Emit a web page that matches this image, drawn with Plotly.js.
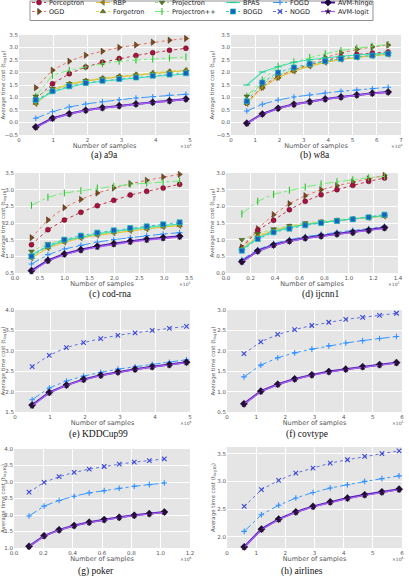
<!DOCTYPE html>
<html>
<head>
<meta charset="utf-8">
<script src="https://cdn.plot.ly/plotly-3.0.1.min.js"></script>
<style>
  html, body { margin: 0; padding: 0; background: #ffffff; }
  #chart { width: 409px; height: 576px; }
</style>
</head>
<body>
<div id="chart"></div>
<script>
// ---- sample counts (x) per dataset ----
const a9aX      = [0.49, 0.98, 1.47, 1.95, 2.44, 2.93, 3.42, 3.91, 4.40, 4.88];
const w8aX      = [0.65, 1.29, 1.94, 2.59, 3.24, 3.88, 4.53, 5.18, 5.82, 6.47];
const codrnaX   = [0.331, 0.662, 0.993, 1.325, 1.656, 1.987, 2.318, 2.649, 2.980, 3.311];
const ijcnn1X   = [0.129, 0.258, 0.387, 0.516, 0.645, 0.774, 0.903, 1.032, 1.161, 1.29];
const kddX      = [0.49, 0.98, 1.47, 1.96, 2.45, 2.94, 3.43, 3.92, 4.41, 4.90];
const covtypeX  = [0.58, 1.16, 1.74, 2.32, 2.91, 3.49, 4.07, 4.65, 5.23, 5.81];
const pokerX    = [0.1025, 0.205, 0.3075, 0.41, 0.5125, 0.615, 0.7175, 0.82, 0.9225, 1.025];
const airlinesX = [0.59, 1.18, 1.77, 2.36, 2.95, 3.54, 4.13, 4.72, 5.31, 5.90];

// ---- average time cost (log10) : a9a ----
const a9aPerceptron   = [0.95, 1.55, 1.95, 2.22, 2.41, 2.56, 2.68, 2.79, 2.89, 2.97];
const a9aOGD          = [1.39, 2.09, 2.45, 2.69, 2.85, 3.00, 3.10, 3.21, 3.29, 3.36];
const a9aRBP          = [0.75, 1.30, 1.52, 1.65, 1.75, 1.83, 1.90, 1.96, 2.02, 2.08];
const a9aForgetron    = [0.78, 1.32, 1.55, 1.68, 1.78, 1.86, 1.93, 1.99, 2.05, 2.10];
const a9aProjectron   = [1.05, 1.36, 1.55, 1.67, 1.76, 1.83, 1.89, 1.95, 2.00, 2.04];
const a9aProjectronPP = [1.05, 1.89, 2.09, 2.22, 2.35, 2.45, 2.50, 2.54, 2.58, 2.62];
const a9aBPAS         = [0.85, 1.22, 1.42, 1.56, 1.65, 1.72, 1.78, 1.84, 1.89, 1.94];
const a9aBOGD         = [0.90, 1.25, 1.45, 1.58, 1.67, 1.74, 1.80, 1.87, 1.92, 1.97];
const a9aFOGD         = [0.17, 0.43, 0.62, 0.74, 0.83, 0.91, 0.98, 1.03, 1.09, 1.13];
const a9aAVMhinge     = [-0.18, 0.17, 0.35, 0.49, 0.59, 0.67, 0.74, 0.81, 0.87, 0.94];
const a9aAVMlogit     = [-0.20, 0.15, 0.34, 0.48, 0.58, 0.66, 0.73, 0.80, 0.86, 0.93];

// ---- w8a ----
const w8aPerceptron   = [0.80, 1.45, 1.85, 2.10, 2.30, 2.48, 2.62, 2.72, 2.78, 2.82];
const w8aOGD          = [0.80, 1.40, 1.80, 2.10, 2.35, 2.60, 2.78, 2.92, 3.02, 3.10];
const w8aRBP          = [0.75, 1.40, 1.80, 2.05, 2.25, 2.40, 2.52, 2.60, 2.67, 2.72];
const w8aForgetron    = [0.78, 1.42, 1.82, 2.07, 2.27, 2.42, 2.54, 2.62, 2.68, 2.74];
const w8aProjectron   = [1.05, 1.55, 1.90, 2.12, 2.30, 2.44, 2.55, 2.63, 2.69, 2.75];
const w8aProjectronPP = [1.05, 1.70, 2.25, 2.42, 2.60, 2.75, 2.88, 2.98, 3.05, 3.12];
const w8aBPAS         = [1.50, 2.02, 2.23, 2.41, 2.51, 2.59, 2.65, 2.70, 2.74, 2.78];
const w8aBOGD         = [0.85, 1.60, 2.00, 2.20, 2.35, 2.45, 2.55, 2.62, 2.68, 2.75];
const w8aFOGD         = [0.46, 0.73, 0.90, 1.02, 1.10, 1.18, 1.25, 1.30, 1.35, 1.41];
const w8aAVMhinge     = [-0.03, 0.34, 0.57, 0.73, 0.83, 0.94, 1.02, 1.10, 1.17, 1.22];
const w8aAVMlogit     = [-0.05, 0.33, 0.56, 0.72, 0.82, 0.93, 1.01, 1.09, 1.16, 1.21];

// ---- cod-rna ----
const codPerceptron   = [1.35, 1.80, 2.09, 2.32, 2.52, 2.68, 2.84, 2.95, 3.05, 3.16];
const codOGD          = [1.56, 2.09, 2.46, 2.71, 2.90, 3.05, 3.18, 3.28, 3.38, 3.46];
const codRBP          = [0.95, 1.25, 1.42, 1.55, 1.63, 1.70, 1.77, 1.82, 1.88, 1.92];
const codForgetron    = [0.97, 1.27, 1.44, 1.56, 1.65, 1.72, 1.78, 1.83, 1.89, 1.93];
const codProjectron   = [1.15, 1.38, 1.50, 1.60, 1.68, 1.75, 1.82, 1.87, 1.92, 1.95];
const codProjectronPP = [2.53, 2.77, 2.90, 2.97, 3.05, 3.10, 3.16, 3.20, 3.23, 3.26];
const codBPAS         = [1.05, 1.30, 1.47, 1.58, 1.67, 1.75, 1.82, 1.87, 1.92, 1.97];
const codBOGD         = [1.00, 1.33, 1.50, 1.62, 1.71, 1.78, 1.85, 1.90, 1.96, 2.02];
const codFOGD         = [0.77, 1.05, 1.22, 1.33, 1.43, 1.50, 1.56, 1.62, 1.67, 1.71];
const codAVMhinge     = [0.57, 0.88, 1.07, 1.20, 1.30, 1.38, 1.45, 1.51, 1.56, 1.60];
const codAVMlogit     = [0.54, 0.86, 1.05, 1.18, 1.28, 1.36, 1.43, 1.49, 1.54, 1.58];

// ---- ijcnn1 ----
const ijcPerceptron   = [0.75, 1.28, 1.58, 1.90, 2.15, 2.35, 2.50, 2.63, 2.75, 2.85];
const ijcOGD          = [0.78, 1.33, 1.75, 2.08, 2.32, 2.50, 2.62, 2.73, 2.82, 2.93];
const ijcRBP          = [0.72, 1.10, 1.27, 1.38, 1.46, 1.52, 1.57, 1.62, 1.66, 1.70];
const ijcForgetron    = [0.75, 1.12, 1.28, 1.40, 1.47, 1.53, 1.58, 1.62, 1.67, 1.71];
const ijcProjectron   = [1.00, 1.18, 1.32, 1.42, 1.50, 1.55, 1.60, 1.63, 1.68, 1.72];
const ijcProjectronPP = [1.78, 2.15, 2.36, 2.48, 2.58, 2.67, 2.74, 2.80, 2.86, 2.90];
const ijcBPAS         = [0.70, 1.05, 1.24, 1.36, 1.45, 1.52, 1.57, 1.62, 1.67, 1.72];
const ijcBOGD         = [0.67, 1.02, 1.22, 1.33, 1.43, 1.50, 1.56, 1.61, 1.67, 1.75];
const ijcFOGD         = [0.40, 0.70, 0.88, 1.00, 1.09, 1.16, 1.22, 1.28, 1.33, 1.40];
const ijcAVMhinge     = [0.34, 0.66, 0.84, 0.96, 1.05, 1.11, 1.17, 1.22, 1.28, 1.36];
const ijcAVMlogit     = [0.33, 0.65, 0.83, 0.95, 1.04, 1.10, 1.16, 1.21, 1.27, 1.34];

// ---- KDDCup99 ----
const kddNOGD     = [2.61, 2.89, 3.08, 3.20, 3.30, 3.38, 3.44, 3.50, 3.55, 3.60];
const kddFOGD     = [1.80, 2.09, 2.26, 2.38, 2.47, 2.55, 2.61, 2.67, 2.72, 2.78];
const kddAVMhinge = [1.67, 1.98, 2.16, 2.30, 2.40, 2.48, 2.55, 2.61, 2.66, 2.72];
const kddAVMlogit = [1.65, 1.97, 2.15, 2.29, 2.39, 2.47, 2.54, 2.60, 2.65, 2.71];

// ---- covtype ----
const covNOGD     = [1.93, 2.22, 2.40, 2.52, 2.62, 2.70, 2.77, 2.82, 2.87, 2.92];
const covFOGD     = [1.36, 1.65, 1.83, 1.95, 2.04, 2.12, 2.19, 2.25, 2.30, 2.35];
const covAVMhinge = [0.70, 1.01, 1.18, 1.31, 1.41, 1.49, 1.55, 1.61, 1.66, 1.71];
const covAVMlogit = [0.69, 1.00, 1.17, 1.30, 1.40, 1.48, 1.54, 1.60, 1.65, 1.70];

// ---- poker ----
const pokNOGD     = [2.69, 2.99, 3.16, 3.29, 3.39, 3.47, 3.54, 3.60, 3.65, 3.70];
const pokFOGD     = [1.97, 2.27, 2.44, 2.57, 2.67, 2.74, 2.81, 2.87, 2.92, 2.97];
const pokAVMhinge = [1.05, 1.37, 1.55, 1.68, 1.78, 1.86, 1.93, 1.99, 2.04, 2.09];
const pokAVMlogit = [1.04, 1.36, 1.54, 1.67, 1.77, 1.85, 1.92, 1.98, 2.03, 2.08];

// ---- airlines ----
const airNOGD     = [2.55, 2.85, 3.02, 3.15, 3.24, 3.33, 3.39, 3.45, 3.50, 3.55];
const airFOGD     = [2.10, 2.40, 2.57, 2.70, 2.80, 2.88, 2.94, 3.00, 3.05, 3.10];
const airAVMhinge = [1.82, 2.14, 2.32, 2.45, 2.55, 2.63, 2.70, 2.76, 2.81, 2.86];
const airAVMlogit = [1.81, 2.13, 2.31, 2.44, 2.54, 2.62, 2.69, 2.75, 2.80, 2.85];

// ---- captions and exponent labels ----
const captions  = ['(a) a9a', '(b) w8a', '(c) cod-rna', '(d) ijcnn1',
                   '(e) KDDCup99', '(f) covtype', '(g) poker', '(h) airlines'];
const exponents = ['4', '4', '5', '5', '6', '5', '6', '6'];

// ---------------------------------------------------------------
const W = 409, H = 576;
const px = v => v / W;
const py = v => 1 - v / H;

// line / marker style for each method
const styles = {
  'Perceptron':   { line: { color: '#c8304a', dash: 'dot', width: 1 },
                    marker: { symbol: 'circle', size: 5, color: '#a8123e', line: { color: '#5a0a20', width: 0.5 } } },
  'OGD':          { line: { color: '#e8705e', dash: 'dot', width: 1 },
                    marker: { symbol: 'triangle-right', size: 5.5, color: '#7a4a1e', line: { color: '#4a2a10', width: 0.5 } } },
  'RBP':          { line: { color: '#e8c030', width: 1 },
                    marker: { symbol: 'triangle-left', size: 5, color: '#9a8a20', line: { color: '#5a5010', width: 0.5 } } },
  'Forgetron':    { line: { color: '#d8d848', dash: 'dot', width: 1 },
                    marker: { symbol: 'triangle-up', size: 5, color: '#6b7a20', line: { color: '#3a4a10', width: 0.5 } } },
  'Projectron':   { line: { color: '#9ae070', dash: 'dot', width: 1 },
                    marker: { symbol: 'triangle-down', size: 5, color: '#5a7a2a', line: { color: '#304a10', width: 0.5 } } },
  'Projectron++': { line: { color: '#70f070', dash: 'dashdot', width: 1 },
                    marker: { symbol: 'line-ns-open', size: 5, color: '#30c030', line: { color: '#30c030', width: 1.1 } } },
  'BPAS':         { line: { color: '#40e0b0', width: 1.2 },
                    marker: { symbol: 'line-ew-open', size: 5, color: '#20c890', line: { color: '#20c890', width: 1.1 } } },
  'BOGD':         { line: { color: '#30c8c8', dash: 'dot', width: 1 },
                    marker: { symbol: 'square', size: 5, color: '#1a5fc0', line: { color: '#20b8b8', width: 0.8 } } },
  'FOGD':         { line: { color: '#3898ff', dash: 'dashdot', width: 1 },
                    marker: { symbol: 'cross-thin-open', size: 4, color: '#3090ff', line: { color: '#3090ff', width: 1.1 } } },
  'NOGD':         { line: { color: '#6070e0', dash: 'dot', width: 1 },
                    marker: { symbol: 'x-thin-open', size: 4.5, color: '#3a48d8', line: { color: '#3a48d8', width: 1.1 } } },
  'AVM-hinge':    { line: { color: '#4a1ab0', width: 2 },
                    marker: { symbol: 'diamond', size: 5.5, color: '#1a0838', line: { color: '#1a0838', width: 0.5 } } },
  'AVM-logit':    { line: { color: '#a860f0', width: 1.3 },
                    marker: { symbol: 'star', size: 4.5, color: '#2a1038', line: { color: '#2a1038', width: 0.3 } } }
};

// legend slot for each method: 6 columns x 2 rows
const legendSlots = {
  'Perceptron':   { id: 'legend',   col: 0, row: 0 },
  'RBP':          { id: 'legend2',  col: 1, row: 0 },
  'Projectron':   { id: 'legend3',  col: 2, row: 0 },
  'BPAS':         { id: 'legend4',  col: 3, row: 0 },
  'FOGD':         { id: 'legend5',  col: 4, row: 0 },
  'AVM-hinge':    { id: 'legend6',  col: 5, row: 0 },
  'OGD':          { id: 'legend7',  col: 0, row: 1 },
  'Forgetron':    { id: 'legend8',  col: 1, row: 1 },
  'Projectron++': { id: 'legend9',  col: 2, row: 1 },
  'BOGD':         { id: 'legend10', col: 3, row: 1 },
  'NOGD':         { id: 'legend11', col: 4, row: 1 },
  'AVM-logit':    { id: 'legend12', col: 5, row: 1 }
};
const legendTextX = [49, 113, 172, 243, 290, 338];
const legendRowY  = [2.5, 11.5];

// panels: pixel box of the plotting area, axis ranges and the series drawn
const panels = [
  { box: [19, 35, 190, 135],  xr: [0, 5],   xd: 1,   xf: 'd',   yr: [-0.5, 3.5], yd: 0.5, cap: [104, 155], x: a9aX,
    s: { 'Perceptron': a9aPerceptron, 'OGD': a9aOGD, 'RBP': a9aRBP, 'Forgetron': a9aForgetron, 'Projectron': a9aProjectron,
         'Projectron++': a9aProjectronPP, 'BPAS': a9aBPAS, 'BOGD': a9aBOGD, 'FOGD': a9aFOGD, 'AVM-hinge': a9aAVMhinge, 'AVM-logit': a9aAVMlogit } },
  { box: [231, 35, 401, 135], xr: [0, 7],   xd: 1,   xf: 'd',   yr: [-0.5, 3.5], yd: 0.5, cap: [315, 155], x: w8aX,
    s: { 'Perceptron': w8aPerceptron, 'OGD': w8aOGD, 'RBP': w8aRBP, 'Forgetron': w8aForgetron, 'Projectron': w8aProjectron,
         'Projectron++': w8aProjectronPP, 'BPAS': w8aBPAS, 'BOGD': w8aBOGD, 'FOGD': w8aFOGD, 'AVM-hinge': w8aAVMhinge, 'AVM-logit': w8aAVMlogit } },
  { box: [15, 173, 189, 273], xr: [0, 3.5], xd: 0.5, xf: '.1f', yr: [0.5, 3.5],  yd: 0.5, cap: [110, 294], x: codrnaX,
    s: { 'Perceptron': codPerceptron, 'OGD': codOGD, 'RBP': codRBP, 'Forgetron': codForgetron, 'Projectron': codProjectron,
         'Projectron++': codProjectronPP, 'BPAS': codBPAS, 'BOGD': codBOGD, 'FOGD': codFOGD, 'AVM-hinge': codAVMhinge, 'AVM-logit': codAVMlogit } },
  { box: [226, 173, 398, 273], xr: [0, 1.4], xd: 0.2, xf: '.1f', yr: [0, 3.0],   yd: 0.5, cap: [320, 294], x: ijcnn1X,
    s: { 'Perceptron': ijcPerceptron, 'OGD': ijcOGD, 'RBP': ijcRBP, 'Forgetron': ijcForgetron, 'Projectron': ijcProjectron,
         'Projectron++': ijcProjectronPP, 'BPAS': ijcBPAS, 'BOGD': ijcBOGD, 'FOGD': ijcFOGD, 'AVM-hinge': ijcAVMhinge, 'AVM-logit': ijcAVMlogit } },
  { box: [15, 310, 190, 412], xr: [0, 5],   xd: 1,   xf: 'd',   yr: [1.5, 4.0],  yd: 0.5, cap: [98, 434], x: kddX,
    s: { 'FOGD': kddFOGD, 'NOGD': kddNOGD, 'AVM-hinge': kddAVMhinge, 'AVM-logit': kddAVMlogit } },
  { box: [227, 310, 402, 412], xr: [0, 6],  xd: 1,   xf: 'd',   yr: [0.5, 3.0],  yd: 0.5, cap: [307, 434], x: covtypeX,
    s: { 'FOGD': covFOGD, 'NOGD': covNOGD, 'AVM-hinge': covAVMhinge, 'AVM-logit': covAVMlogit } },
  { box: [14, 449, 190, 548], xr: [0, 1.2], xd: 0.2, xf: '.1f', yr: [1.0, 4.0],  yd: 0.5, cap: [96, 571], x: pokerX,
    s: { 'FOGD': pokFOGD, 'NOGD': pokNOGD, 'AVM-hinge': pokAVMhinge, 'AVM-logit': pokAVMlogit } },
  { box: [227, 447, 402, 548], xr: [0, 6],  xd: 1,   xf: 'd',   yr: [1.8, 3.62], yd: 0.5, cap: [302, 571], x: airlinesX,
    s: { 'FOGD': airFOGD, 'NOGD': airNOGD, 'AVM-hinge': airAVMhinge, 'AVM-logit': airAVMlogit } }
];

const drawOrder = ['OGD', 'Perceptron', 'Projectron++', 'Projectron', 'Forgetron', 'RBP', 'BPAS', 'BOGD',
                   'NOGD', 'FOGD', 'AVM-hinge', 'AVM-logit'];

const traces = [];
const seenLegend = {};
const layout = {
  width: W, height: H,
  margin: { l: 0, r: 0, t: 0, b: 0, autoexpand: false },
  paper_bgcolor: '#ffffff',
  font: { family: 'DejaVu Sans, sans-serif', color: '#444' },
  showlegend: true,
  annotations: [],
  shapes: []
};

const tickFont = { size: 5.5, color: '#555', family: 'DejaVu Sans, sans-serif' };
const titleFont = { size: 6.5, color: '#555', family: 'DejaVu Sans, sans-serif' };

panels.forEach((p, i) => {
  const n = i + 1;
  const suf = n === 1 ? '' : String(n);
  const [x0, y0, x1, y1] = p.box;

  layout['xaxis' + suf] = {
    domain: [px(x0), px(x1)], anchor: 'y' + suf,
    range: p.xr, dtick: p.xd, tick0: 0, tickformat: p.xf,
    showgrid: true, gridcolor: '#ffffff', gridwidth: 1,
    zeroline: false, showline: false, ticks: '',
    tickfont: tickFont, automargin: false,
    title: { text: 'Number of samples', font: titleFont, standoff: 1 }
  };
  layout['yaxis' + suf] = {
    domain: [py(y1), py(y0)], anchor: 'x' + suf,
    range: p.yr, dtick: p.yd, tick0: 0, tickformat: '.1f',
    showgrid: true, gridcolor: '#ffffff', gridwidth: 1,
    zeroline: false, showline: false, ticks: '',
    tickfont: tickFont, automargin: false,
    title: { text: 'Average time cost (t<sub>log10</sub>)', font: { size: 5.5, color: '#555' }, standoff: 1 }
  };

  // grey plotting background
  layout.shapes.push({
    type: 'rect', xref: 'x' + suf + ' domain', yref: 'y' + suf + ' domain',
    x0: 0, x1: 1, y0: 0, y1: 1, fillcolor: '#e5e5e5', line: { width: 0 }, layer: 'below'
  });

  drawOrder.forEach(name => {
    if (!p.s[name]) return;
    const st = styles[name];
    const slot = legendSlots[name];
    const show = !seenLegend[name];
    seenLegend[name] = true;
    traces.push({
      type: 'scatter', mode: 'lines+markers', name: name,
      x: p.x, y: p.s[name],
      xaxis: 'x' + suf, yaxis: 'y' + suf,
      line: st.line, marker: st.marker,
      legend: slot.id, showlegend: show,
      cliponaxis: false, hoverinfo: 'skip'
    });
  });

  // caption under each panel
  layout.annotations.push({
    xref: 'paper', yref: 'paper', x: px(p.cap[0]), y: py(p.cap[1]),
    xanchor: 'center', yanchor: 'middle', showarrow: false,
    text: captions[i],
    font: { family: 'Liberation Serif, DejaVu Serif, serif', size: 9.5, color: '#111' }
  });
  // axis offset multiplier, tucked under the last tick label
  layout.annotations.push({
    xref: 'paper', yref: 'paper', x: px(x1 + 4), y: py(y1 + 10.5),
    xanchor: 'right', yanchor: 'middle', showarrow: false,
    text: '\u00d710<sup>' + exponents[i] + '</sup>',
    font: { size: 4.5, color: '#555' }
  });
});

// legend frame
layout.shapes.push({
  type: 'rect', xref: 'paper', yref: 'paper',
  x0: px(30), x1: px(373), y0: py(20.5), y1: py(1),
  fillcolor: '#ffffff', line: { color: '#777', width: 0.8 }, layer: 'below'
});

// one legend per slot so the 6 x 2 grid can be positioned freely
Object.keys(legendSlots).forEach(name => {
  const slot = legendSlots[name];
  layout[slot.id] = {
    x: px(legendTextX[slot.col] - 40), y: py(legendRowY[slot.row]),
    xanchor: 'left', yanchor: 'middle',
    orientation: 'v', bgcolor: 'rgba(0,0,0,0)', borderwidth: 0,
    font: { size: 6.5, color: '#222', family: 'DejaVu Sans, sans-serif' },
    itemclick: false, itemdoubleclick: false, tracegroupgap: 0
  };
});

// compact legend keys: a short line sample with its marker, right before the label
function compactLegendKeys(gd) {
  gd.querySelectorAll('.infolayer g.traces').forEach(item => {
    item.querySelectorAll('path.js-line').forEach(p => p.setAttribute('d', 'M23,0h14'));
    item.querySelectorAll('g.legendpoints path.scatterpts').forEach(p => p.setAttribute('transform', 'translate(30,0)'));
  });
}

Plotly.newPlot('chart', traces, layout, { staticPlot: true, displayModeBar: false }).then(gd => {
  compactLegendKeys(gd);
  gd.on('plotly_afterplot', () => compactLegendKeys(gd));
});
</script>
</body>
</html>
